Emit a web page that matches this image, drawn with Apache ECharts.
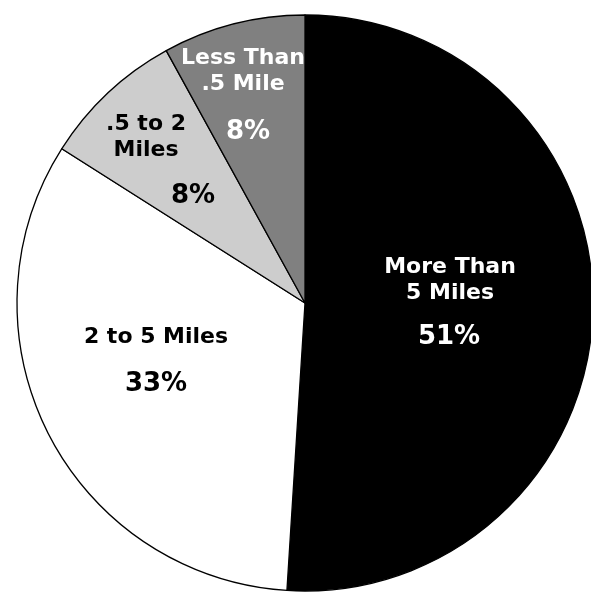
<!DOCTYPE html>
<html>
<head>
<meta charset="utf-8">
<script src="https://cdn.jsdelivr.net/npm/echarts@6/dist/echarts.min.js"></script>
<style>
html,body{margin:0;padding:0;background:#fff;}
#chart{width:591px;height:594px;}
</style>
</head>
<body>
<div id="chart"></div>
<script>
// Data
const categories = ['More Than\n5 Miles', '2 to 5 Miles', '.5 to 2\nMiles', 'Less Than\n.5 Mile'];
const values = [51, 33, 8, 8];

// Styles / layout (kept separate from data)
const sliceColors = ['#000000', '#ffffff', '#cdcdcd', '#808080'];
const textColors = ['#ffffff', '#000000', '#000000', '#ffffff'];
const namePos = [[450, 280], [156, 337], [146, 137], [243, 71]];
const pctPos = [[449, 337], [156, 384], [193, 196], [248, 132]];

const chart = echarts.init(document.getElementById('chart'), null, {renderer: 'canvas'});

const baseData = categories.map((c, i) => ({
  name: c,
  value: values[i]
}));

const FONT = '"DejaVu Sans", sans-serif';

chart.setOption({
  backgroundColor: '#ffffff',
  animation: false,
  series: [
    {
      type: 'pie',
      center: [305, 303],
      radius: [0, 288],
      startAngle: 90,
      clockwise: true,
      silent: true,
      data: baseData.map((d, i) => ({
        name: d.name,
        value: d.value,
        itemStyle: {color: sliceColors[i], borderColor: '#000', borderWidth: 1.3},
        label: {color: textColors[i]}
      })),
      label: {
        show: true,
        position: 'inside',
        formatter: p => p.name,
        fontFamily: FONT,
        fontWeight: 'bold',
        fontSize: 22,
        lineHeight: 26,
        align: 'center',
        verticalAlign: 'middle'
      },
      labelLine: {show: false},
      labelLayout: function (params) {
        const p = namePos[params.dataIndex];
        return {x: p[0], y: p[1], align: 'center', verticalAlign: 'middle'};
      }
    },
    {
      type: 'pie',
      center: [305, 303],
      radius: [0, 288],
      startAngle: 90,
      clockwise: true,
      silent: true,
      data: baseData.map((d, i) => ({
        name: d.name,
        value: d.value,
        itemStyle: {color: 'rgba(0,0,0,0)', borderWidth: 0},
        label: {color: textColors[i]}
      })),
      label: {
        show: true,
        position: 'inside',
        formatter: p => Math.round(p.percent) + '%',
        fontFamily: FONT,
        fontWeight: 'bold',
        fontSize: 26,
        align: 'center',
        verticalAlign: 'middle'
      },
      labelLine: {show: false},
      labelLayout: function (params) {
        const p = pctPos[params.dataIndex];
        return {x: p[0], y: p[1], align: 'center', verticalAlign: 'middle'};
      }
    }
  ]
});
</script>
</body>
</html>
